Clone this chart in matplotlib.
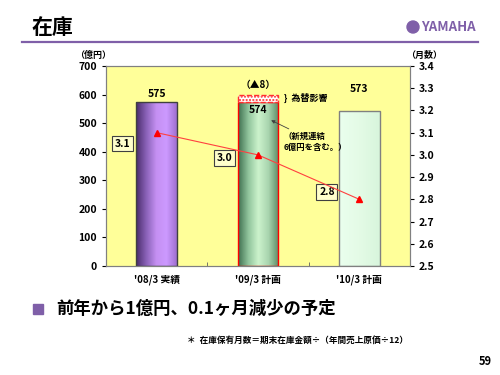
import numpy as np
import matplotlib.pyplot as plt
from matplotlib.colors import LinearSegmentedColormap
from matplotlib.patches import Rectangle, Ellipse

plt.rcParams['font.family'] = ['Noto Sans CJK JP', 'DejaVu Sans']

# データ
categories = ["'08/3 実績", "'09/3 計画", "'10/3 計画"]
inventory = [575, 574, 541]          # 棒の高さ
inventory_labels = ["575", "574", "573"]
fx_effect = 23                       # 為替影響の点線部分 (図上の高さ)
months = [3.1, 3.0, 2.8]
months_labels = ["3.1", "3.0", "2.8"]

fig = plt.figure(figsize=(5, 3.75), dpi=100)
fig.patch.set_facecolor('white')

# ヘッダー
fig.text(0.064, 0.928, '在庫', fontsize=15, fontweight='bold', va='center')
fig.add_artist(plt.Line2D([0.044, 0.956], [0.888, 0.888], color='#7f5fa8', lw=1.6))
fig.add_artist(Ellipse((0.826, 0.928), 0.024, 0.032, transform=fig.transFigure,
                       color='#7f5fa8'))
fig.text(0.842, 0.928, 'YAMAHA', fontsize=9.5, fontweight='bold', color='#7f5fa8',
         va='center')

ax = fig.add_axes([0.212, 0.2907, 0.608, 0.5333])
ax.set_facecolor('#ffff99')
x = np.arange(len(categories))
w = 0.4

cmaps = [
    LinearSegmentedColormap.from_list('p', ['#4a2c6c', '#8a62b8', '#c590f2', '#cc99ff', '#a070d0']),
    LinearSegmentedColormap.from_list('g', ['#3f7050', '#90c49c', '#ccf3cc', '#a8d4ae', '#5c8c66']),
    LinearSegmentedColormap.from_list('l', ['#eaffee', '#e4fbe6', '#d8f5dc']),
]
edges = ['#404040', '#ff0000', '#808080']
grad = np.linspace(0, 1, 100).reshape(1, -1)

bars = ax.bar(x, inventory, width=w, color='none', edgecolor=edges, lw=1.0, zorder=3)
for b, cm in zip(bars, cmaps):
    im = ax.imshow(grad, cmap=cm, aspect='auto', zorder=2,
                   extent=[b.get_x(), b.get_x() + w, 0, b.get_height()])
    im.set_clip_path(b)

# 為替影響 (点線の箱)
ax.add_patch(Rectangle((x[1] - w / 2, inventory[1]), w, fx_effect, facecolor='white',
                       edgecolor='#ff3030', hatch='.....', ls='--', lw=1.0, zorder=3))

ax.set_xlim(-0.5, 2.5)
ax.set_ylim(0, 700)
ax.set_yticks(range(0, 701, 100))
ax.set_xticks(x)
ax.set_xticklabels(categories, fontsize=7, fontweight='bold')
ax.set_xticks([0.5, 1.5], minor=True)
ax.tick_params(axis='x', which='major', length=0, pad=6)
ax.tick_params(axis='x', which='minor', length=3, direction='in', color='#606060')
ax.tick_params(axis='y', length=3, labelsize=7.5)
for t in ax.get_yticklabels():
    t.set_fontweight('bold')
for s in ax.spines.values():
    s.set_color('#808080')

# 棒ラベル
ax.text(x[0], inventory[0] + 8, inventory_labels[0], ha='center', va='bottom',
        fontsize=7.5, fontweight='bold')
ax.text(x[1], inventory[1] - 12, inventory_labels[1], ha='center', va='top',
        fontsize=7.5, fontweight='bold')
ax.text(x[2], inventory[2] + 60, inventory_labels[2], ha='center', va='bottom',
        fontsize=7.5, fontweight='bold')
ax.text(x[1], 632, '（▲8）', ha='center', va='center', fontsize=7, fontweight='bold')
ax.text(x[1] + 0.26, 589, '}  為替影響', ha='left', va='center', fontsize=6.5,
        fontweight='bold')
ax.annotate('（新規連結\n6億円を含む。）', xy=(x[1] + 0.13, 510), xytext=(x[1] + 0.25, 435),
            fontsize=6, fontweight='bold', ha='left', va='center', linespacing=1.3,
            arrowprops=dict(arrowstyle='-|>', color='#404040', lw=0.6,
                            mutation_scale=5, shrinkA=0, shrinkB=0),
            zorder=6)

ax2 = ax.twinx()
ax2.set_ylim(2.5, 3.4)
ax2.set_yticks(np.arange(2.5, 3.41, 0.1))
ax2.yaxis.set_major_formatter(plt.FormatStrFormatter('%.1f'))
ax2.tick_params(axis='y', length=3, labelsize=7.5)
for t in ax2.get_yticklabels():
    t.set_fontweight('bold')
for s in ax2.spines.values():
    s.set_color('#808080')
ax2.plot(x, months, color='#ff4040', lw=0.8, marker='^', ms=5,
         mfc='#ff0000', mec='#ff0000', zorder=5)
offsets = [(-0.34, -0.05), (-0.33, -0.014), (-0.32, 0.033)]
for xi, m, lab, (dx, dy) in zip(x, months, months_labels, offsets):
    ax2.text(xi + dx, m + dy, lab, ha='center', va='center', fontsize=7.5,
             fontweight='bold',
             bbox=dict(boxstyle='square,pad=0.25', fc='#ffffcc', ec='#404040', lw=0.8))

fig.text(0.15, 0.853, '（億円）', fontsize=6.5, fontweight='bold', ha='left', va='center')
fig.text(0.812, 0.853, '（月数）', fontsize=6.5, fontweight='bold', ha='left', va='center')

# 下部テキスト
fig.add_artist(Rectangle((0.066, 0.163), 0.02, 0.027, transform=fig.transFigure,
                         color='#7f5fa8'))
fig.text(0.112, 0.177, '前年から1億円、0.1ヶ月減少の予定', fontsize=12.5,
         fontweight='bold', va='center')
fig.text(0.374, 0.093, '＊  在庫保有月数＝期末在庫金額÷（年間売上原価÷12）',
         fontsize=6.2, fontweight='bold', va='center')
fig.text(0.984, 0.035, '59', fontsize=8, fontweight='bold', ha='right', va='center')

fig.savefig('out.png', dpi=100)
